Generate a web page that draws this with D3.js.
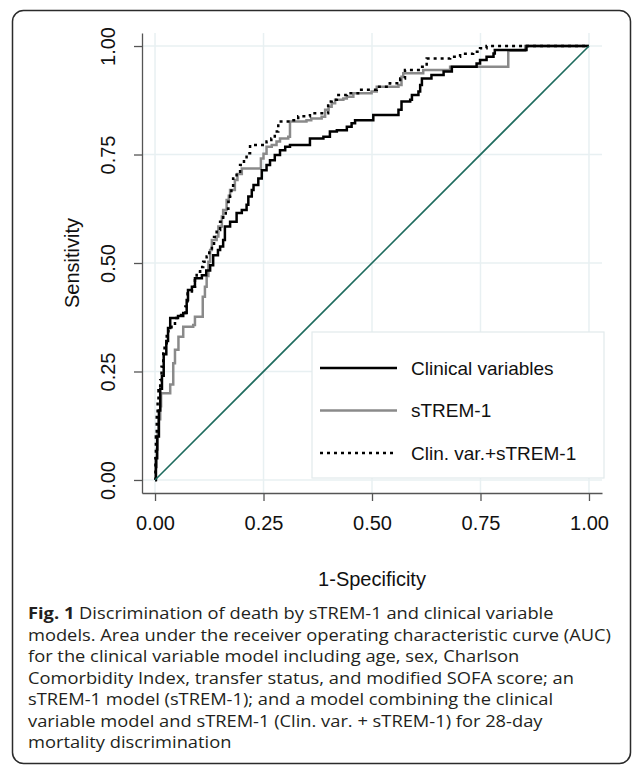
<!DOCTYPE html>
<html>
<head>
<meta charset="utf-8">
<script src="https://cdn.jsdelivr.net/npm/d3@7"></script>
<style>
  body { margin: 0; background: #fff; }
  svg { display: block; }
</style>
</head>
<body>
<div id="roc-chart"></div>
<script>
const xTicks = [0, 0.25, 0.5, 0.75, 1];
const yTicks = [0, 0.25, 0.5, 0.75, 1];

// [1-specificity, sensitivity], step drawn horizontal then vertical
const clinicalRoc = [
  [0, 0], [0.002, 0.05], [0.005, 0.10], [0.009, 0.16], [0.012, 0.21], [0.016, 0.24],
  [0.02, 0.29], [0.026, 0.32], [0.03, 0.35], [0.035, 0.373], [0.053, 0.378], [0.065, 0.385],
  [0.073, 0.415], [0.076, 0.438], [0.085, 0.445], [0.092, 0.465], [0.108, 0.472], [0.118, 0.483],
  [0.127, 0.495], [0.134, 0.518], [0.145, 0.53], [0.150, 0.538], [0.157, 0.553], [0.161, 0.584],
  [0.173, 0.595], [0.188, 0.615], [0.2, 0.622], [0.211, 0.634], [0.215, 0.653], [0.223, 0.668],
  [0.227, 0.68], [0.238, 0.695], [0.246, 0.714], [0.257, 0.726], [0.265, 0.737], [0.276, 0.749],
  [0.288, 0.76], [0.300, 0.768], [0.311, 0.772], [0.357, 0.787], [0.388, 0.791], [0.403, 0.803],
  [0.419, 0.806], [0.442, 0.814], [0.453, 0.822], [0.461, 0.829], [0.503, 0.841], [0.561, 0.853],
  [0.568, 0.872], [0.588, 0.876], [0.592, 0.887], [0.607, 0.895], [0.611, 0.91], [0.615, 0.925],
  [0.637, 0.933], [0.665, 0.941], [0.684, 0.952], [0.741, 0.96], [0.749, 0.968], [0.764, 0.975],
  [0.78, 0.983], [0.783, 0.991], [0.856, 1], [1, 1]
];

const stremRoc = [
  [0, 0], [0.002, 0.03], [0.004, 0.07], [0.006, 0.11], [0.008, 0.14], [0.012, 0.17],
  [0.014, 0.2], [0.031, 0.2], [0.035, 0.22], [0.042, 0.269], [0.046, 0.30], [0.054, 0.33],
  [0.065, 0.353], [0.088, 0.357], [0.092, 0.376], [0.110, 0.422], [0.115, 0.445], [0.119, 0.47],
  [0.123, 0.503], [0.127, 0.53], [0.131, 0.553], [0.142, 0.561], [0.146, 0.584], [0.154, 0.607],
  [0.157, 0.622], [0.165, 0.645], [0.17, 0.655], [0.173, 0.668], [0.184, 0.691], [0.19, 0.705],
  [0.2, 0.718], [0.244, 0.741], [0.25, 0.752], [0.257, 0.768], [0.269, 0.772], [0.280, 0.78],
  [0.288, 0.787], [0.307, 0.791], [0.311, 0.826], [0.349, 0.829], [0.36, 0.833], [0.384, 0.837],
  [0.392, 0.853], [0.40, 0.86], [0.407, 0.868], [0.415, 0.876], [0.434, 0.879], [0.442, 0.883],
  [0.457, 0.891], [0.499, 0.895], [0.511, 0.906], [0.561, 0.91], [0.568, 0.929], [0.572, 0.937],
  [0.618, 0.945], [0.68, 0.952], [0.814, 0.989], [0.853, 1], [1, 1]
];

const combinedRoc = [
  [0, 0], [0.001, 0.05], [0.002, 0.10], [0.004, 0.154], [0.006, 0.18], [0.008, 0.207],
  [0.012, 0.23], [0.015, 0.261], [0.019, 0.3], [0.022, 0.315], [0.027, 0.338], [0.031, 0.346],
  [0.038, 0.357], [0.046, 0.373], [0.06, 0.38], [0.07, 0.40], [0.075, 0.43], [0.085, 0.445],
  [0.092, 0.465], [0.096, 0.48], [0.104, 0.491], [0.111, 0.503], [0.119, 0.515], [0.125, 0.53],
  [0.131, 0.541], [0.136, 0.56], [0.142, 0.576], [0.150, 0.595], [0.157, 0.611], [0.163, 0.625],
  [0.169, 0.641], [0.173, 0.655], [0.176, 0.672], [0.180, 0.695], [0.188, 0.71], [0.196, 0.726],
  [0.205, 0.74], [0.211, 0.753], [0.219, 0.772], [0.257, 0.78], [0.268, 0.787], [0.276, 0.803],
  [0.284, 0.826], [0.311, 0.829], [0.33, 0.838], [0.357, 0.845], [0.399, 0.872], [0.407, 0.876],
  [0.419, 0.887], [0.442, 0.891], [0.472, 0.899], [0.511, 0.906], [0.541, 0.914], [0.565, 0.925],
  [0.576, 0.945], [0.611, 0.952], [0.626, 0.971], [0.680, 0.975], [0.703, 0.982], [0.733, 0.987],
  [0.749, 0.995], [0.764, 1], [1, 1]
];

const referenceLine = [[0, 0], [1, 1]];

const legendLabels = ["Clinical variables", "sTREM-1", "Clin. var.+sTREM-1"];

const captionBold = "Fig. 1";
const captionLines = [
  " Discrimination of death by sTREM-1 and clinical variable",
  "models. Area under the receiver operating characteristic curve (AUC)",
  "for the clinical variable model including age, sex, Charlson",
  "Comorbidity Index, transfer status, and modified SOFA score; an",
  "sTREM-1 model (sTREM-1); and a model combining the clinical",
  "variable model and sTREM-1 (Clin. var. + sTREM-1) for 28-day",
  "mortality discrimination"
];

function createRocChart() {
  const W = 634, H = 776;

  const svg = d3.select("#roc-chart")
    .append("svg")
    .attr("width", W)
    .attr("height", H);

  // figure frame
  svg.append("rect")
    .attr("x", 12.5).attr("y", 10.5)
    .attr("width", 618).attr("height", 753)
    .attr("rx", 11)
    .attr("fill", "white")
    .attr("stroke", "#2b2b2b")
    .attr("stroke-width", 1.5);

  const x = d3.scaleLinear().domain([-0.03, 1.03]).range([142, 602]);
  const y = d3.scaleLinear().domain([-0.03, 1.03]).range([493, 33]);

  const gridColor = "#e8f0f2";

  // gridlines
  svg.append("g").selectAll("line.h")
    .data(yTicks).join("line")
    .attr("x1", x(-0.03)).attr("x2", x(1.03))
    .attr("y1", d => y(d)).attr("y2", d => y(d))
    .attr("stroke", gridColor).attr("stroke-width", 1.5);

  svg.append("g").selectAll("line.v")
    .data(xTicks).join("line")
    .attr("x1", d => x(d)).attr("x2", d => x(d))
    .attr("y1", y(-0.03)).attr("y2", y(1.03))
    .attr("stroke", gridColor).attr("stroke-width", 1.5);

  // axes
  const fmt = d3.format(".2f");

  const yAxis = svg.append("g")
    .attr("transform", `translate(${x(-0.03)},0)`)
    .call(d3.axisLeft(y).tickValues(yTicks).tickFormat(fmt).tickSize(8).tickSizeOuter(0));
  yAxis.selectAll("text")
    .attr("x", null).attr("dy", null)
    .attr("transform", "translate(-27,0) rotate(-90)")
    .attr("text-anchor", "middle")
    .style("font-family", "'Liberation Sans', Arial, sans-serif")
    .style("font-size", "20px")
    .attr("fill", "#111");

  const xAxis = svg.append("g")
    .attr("transform", `translate(0,${y(-0.03)})`)
    .call(d3.axisBottom(x).tickValues(xTicks).tickFormat(fmt).tickSize(8).tickSizeOuter(0));
  xAxis.selectAll("text")
    .attr("y", 23)
    .style("font-family", "'Liberation Sans', Arial, sans-serif")
    .style("font-size", "20px")
    .attr("fill", "#111");

  [yAxis, xAxis].forEach(a => {
    a.select(".domain").attr("stroke", "#555").attr("stroke-width", 1.3);
    a.selectAll(".tick line").attr("stroke", "#555").attr("stroke-width", 1.3);
  });

  svg.append("text")
    .attr("x", x(0.5)).attr("y", 586)
    .attr("text-anchor", "middle")
    .style("font-family", "'Liberation Sans', Arial, sans-serif")
    .style("font-size", "20px")
    .attr("fill", "#111")
    .text("1-Specificity");

  svg.append("text")
    .attr("transform", `translate(79,${y(0.5)}) rotate(-90)`)
    .attr("text-anchor", "middle")
    .style("font-family", "'Liberation Sans', Arial, sans-serif")
    .style("font-size", "20px")
    .attr("fill", "#111")
    .text("Sensitivity");

  // curves
  const stepLine = d3.line()
    .x(d => x(d[0]))
    .y(d => y(d[1]))
    .curve(d3.curveStepAfter);

  const straight = d3.line().x(d => x(d[0])).y(d => y(d[1]));

  const series = [
    { data: stremRoc, color: "#8a8a8a", dash: null },
    { data: clinicalRoc, color: "#000", dash: null },
    { data: combinedRoc, color: "#000", dash: "3,4" }
  ];

  series.forEach(s => {
    svg.append("path")
      .attr("d", stepLine(s.data))
      .attr("fill", "none")
      .attr("stroke", s.color)
      .attr("stroke-width", 2.5)
      .attr("stroke-dasharray", s.dash);
  });

  svg.append("path")
    .attr("d", straight(referenceLine))
    .attr("fill", "none")
    .attr("stroke", "#1e6b5e")
    .attr("stroke-width", 1.6);

  // legend
  const legend = svg.append("g");
  legend.append("rect")
    .attr("x", 312).attr("y", 332)
    .attr("width", 292).attr("height", 146)
    .attr("fill", "white")
    .attr("stroke", "#e2eaec")
    .attr("stroke-width", 1.2);

  const legendStyles = [
    { color: "#000", dash: null },
    { color: "#8a8a8a", dash: null },
    { color: "#000", dash: "3,4" }
  ];

  legendLabels.forEach((label, i) => {
    const ly = 368 + i * 42.5;
    legend.append("line")
      .attr("x1", 320).attr("x2", 397)
      .attr("y1", ly).attr("y2", ly)
      .attr("stroke", legendStyles[i].color)
      .attr("stroke-width", 2.5)
      .attr("stroke-dasharray", legendStyles[i].dash);
    legend.append("text")
      .attr("x", 411).attr("y", ly)
      .attr("dy", "0.35em")
      .style("font-family", "'Liberation Sans', Arial, sans-serif")
      .style("font-size", "19px")
      .attr("fill", "#111")
      .text(label);
  });

  // caption
  const cap = svg.append("g")
    .style("font-family", "'Open Sans', 'Noto Sans', sans-serif")
    .style("font-size", "15.7px")
    .attr("fill", "#231f20");

  const capTexts = captionLines.map((line, i) => {
    const t = cap.append("text")
      .attr("x", 28)
      .attr("y", 619 + i * 21.5);
    if (i === 0) {
      t.append("tspan").style("font-weight", "bold").text(captionBold);
    }
    t.append("tspan").text(line);
    return t;
  });

  // stretch slightly so line 2 spans the same width as in the figure
  const factor = 583 / capTexts[1].node().getComputedTextLength();
  capTexts.forEach(t => {
    const len = t.node().getComputedTextLength();
    t.attr("textLength", len * factor).attr("lengthAdjust", "spacingAndGlyphs");
  });
}

createRocChart();
</script>
</body>
</html>
